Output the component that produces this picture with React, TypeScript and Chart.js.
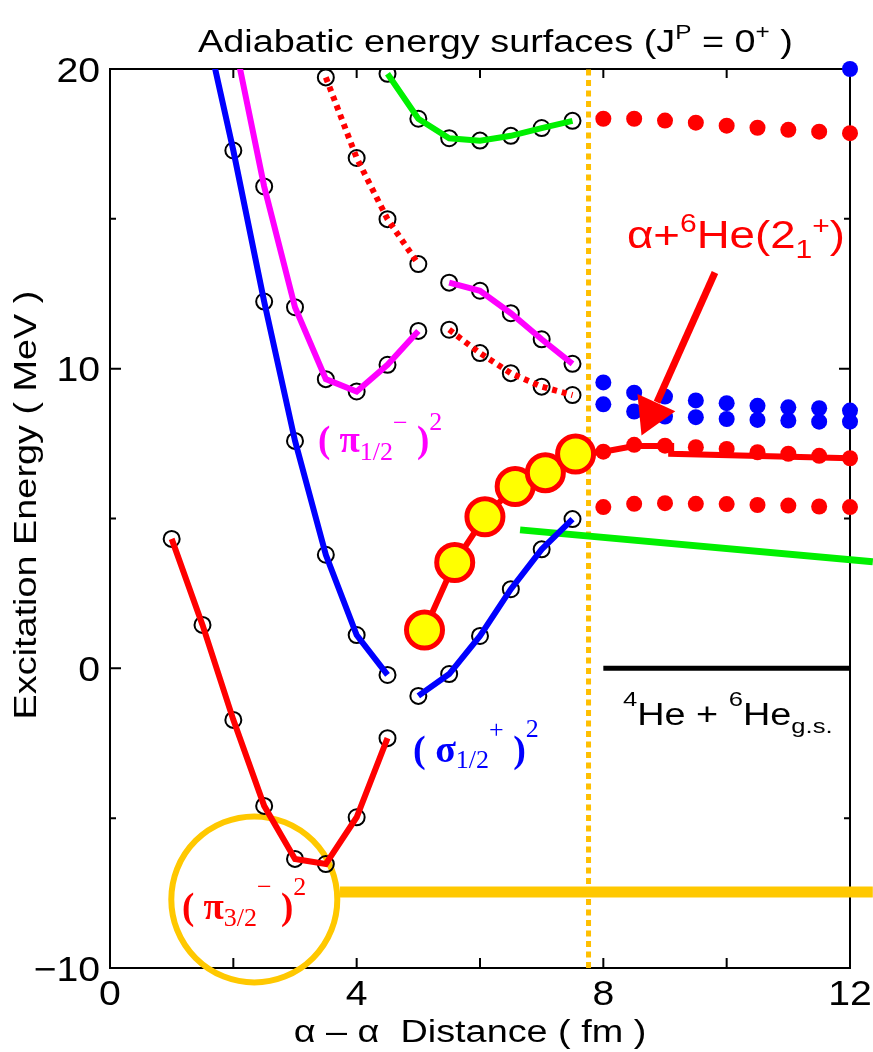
import React, { useEffect, useRef } from 'react';
import { Chart, registerables } from 'chart.js';
Chart.register(...registerables);

// ---- axis ticks ----
const xTicks = [0, 2, 4, 6, 8, 10, 12];
const xTickLabels = [0, 4, 8, 12];
const yTicks = [-10, -5, 0, 5, 10, 15, 20];
const yTickLabels = [-10, 0, 10, 20];

// ---- adiabatic curves (open circles) ----
const piThreeX = [1, 1.5, 2, 2.5, 3, 3.5, 4, 4.5];
const piThreeY = [4.32, 1.45, -1.72, -4.59, -6.36, -6.53, -4.97, -2.33];
const sigmaAX = [1.5, 2, 2.5, 3, 3.5, 4, 4.5];
const sigmaAY = [21.9, 17.28, 12.24, 7.59, 3.79, 1.11, -0.22];
const sigmaBX = [5, 5.5, 6, 6.5, 7, 7.5];
const sigmaBY = [-0.92, -0.19, 1.08, 2.64, 3.97, 4.98];
const piOneAX = [2, 2.5, 3, 3.5, 4, 4.5, 5];
const piOneAY = [21.1, 16.08, 12.05, 9.65, 9.24, 10.13, 11.26];
const piOneBX = [5.5, 6, 6.5, 7, 7.5];
const piOneBY = [12.87, 12.6, 11.85, 10.98, 10.16];
const dottedUpX = [3.5, 4, 4.5, 5];
const dottedUpY = [19.72, 17.03, 14.99, 13.49];
const dottedLowX = [5.5, 6, 6.5, 7, 7.5];
const dottedLowY = [11.3, 10.52, 9.85, 9.4, 9.12];
const greenX = [4.5, 5, 5.5, 6, 6.5, 7, 7.5];
const greenY = [19.84, 18.34, 17.69, 17.61, 17.77, 18.03, 18.27];

// ---- yellow cluster states ----
const clusterX = [5.1, 5.59, 6.08, 6.57, 7.06, 7.55];
const clusterY = [1.28, 3.53, 5.06, 6.07, 6.53, 7.15];
const channelLineX = [7.55, 8, 8.5, 9.1, 9.1, 12];
const channelLineY = [7.15, 7.23, 7.42, 7.42, 7.16, 7.01];

// ---- asymptotic region (filled dots) ----
const asymX = [8, 8.5, 9, 9.5, 10, 10.5, 11, 11.5, 12];
const redTopY = [18.34, 18.34, 18.28, 18.21, 18.11, 18.04, 17.97, 17.91, 17.86];
const blueUpperY = [9.54, 9.2, 9.07, 8.94, 8.85, 8.76, 8.71, 8.68, 8.6];
const blueLowerY = [8.81, 8.57, 8.4, 8.38, 8.32, 8.29, 8.27, 8.23, 8.23];
const redMidY = [7.23, 7.46, 7.43, 7.38, 7.32, 7.21, 7.16, 7.09, 7.01];
const redLowY = [5.38, 5.49, 5.51, 5.49, 5.48, 5.45, 5.43, 5.4, 5.38];
const cornerDotX = [12];
const cornerDotY = [20];

// ---- reference lines ----
const greenChannelX = [6.65, 12.37];
const greenChannelY = [4.62, 3.56];
const thresholdX = [8, 12];
const thresholdY = [0, 0];
const highlightLineX = [3.73, 12.37];
const highlightLineY = [-7.46, -7.46];
const highlightCircleX = [2.34];
const highlightCircleY = [-7.71];
const boundaryX = [7.76, 7.76];
const boundaryY = [-10, 20];
const arrowShaftX = [9.81, 8.87];
const arrowShaftY = [13.21, 8.88];
const arrowHeadX = [8.78];
const arrowHeadY = [8.5];

const pts = (xs: number[], ys: number[]) => xs.map((x, i) => ({ x, y: ys[i] }));

const SANS = '"Liberation Sans", Arial, Helvetica, sans-serif';
const SERIF = '"Liberation Serif", "Times New Roman", serif';

type Seg = { t: string; size: number; dy?: number; bold?: boolean };

function segFont(s: Seg, family: string) {
  return `${s.bold ? 'bold ' : ''}${s.size}px ${family}`;
}

function drawRich(
  ctx: CanvasRenderingContext2D,
  x: number,
  y: number,
  segs: Seg[],
  color: string,
  family: string,
  stretch = 1,
  align: 'left' | 'center' | 'right' = 'left',
  rotate = 0
) {
  ctx.save();
  ctx.translate(x, y);
  if (rotate) ctx.rotate(rotate);
  ctx.scale(stretch, 1);
  ctx.fillStyle = color;
  ctx.textBaseline = 'alphabetic';
  ctx.textAlign = 'left';
  let total = 0;
  for (const s of segs) {
    ctx.font = segFont(s, family);
    total += ctx.measureText(s.t).width;
  }
  let cx = align === 'left' ? 0 : align === 'center' ? -total / 2 : -total;
  for (const s of segs) {
    ctx.font = segFont(s, family);
    ctx.fillText(s.t, cx, s.dy || 0);
    cx += ctx.measureText(s.t).width;
  }
  ctx.restore();
}

const fmt = (v: number) => (v < 0 ? '\u2212' + Math.abs(v) : String(v));

const framePlugin = {
  id: 'frame',
  beforeDatasetsDraw(chart: any) {
    const { ctx, chartArea: a, scales } = chart;
    const xs = scales.x;
    const ys = scales.y;
    ctx.save();
    ctx.strokeStyle = '#000';
    ctx.lineWidth = 2;
    ctx.strokeRect(a.left, a.top, a.right - a.left, a.bottom - a.top);
    ctx.beginPath();
    for (const v of xTicks) {
      const px = xs.getPixelForValue(v);
      ctx.moveTo(px, a.bottom);
      ctx.lineTo(px, a.bottom - 10);
      ctx.moveTo(px, a.top);
      ctx.lineTo(px, a.top + 9);
    }
    for (const v of yTicks) {
      const py = ys.getPixelForValue(v);
      const len = v % 10 === 0 ? 11 : 6;
      ctx.moveTo(a.left, py);
      ctx.lineTo(a.left + len, py);
      ctx.moveTo(a.right, py);
      ctx.lineTo(a.right - len, py);
    }
    ctx.stroke();
    ctx.restore();
  },
  afterDraw(chart: any) {
    const { ctx, scales } = chart;
    const xs = scales.x;
    const ys = scales.y;
    // tick labels
    for (const v of xTickLabels) {
      drawRich(ctx, xs.getPixelForValue(v), 1005, [{ t: fmt(v), size: 35 }], '#000', SANS, 1.12, 'center');
    }
    for (const v of yTickLabels) {
      drawRich(ctx, 100, ys.getPixelForValue(v) + 12.5, [{ t: fmt(v), size: 35 }], '#000', SANS, 1.12, 'right');
    }
    // title
    drawRich(
      ctx,
      198,
      52,
      [
        { t: 'Adiabatic energy surfaces (J', size: 31 },
        { t: 'P', size: 20, dy: -13 },
        { t: ' = 0', size: 31 },
        { t: '+', size: 20, dy: -13 },
        { t: ' )', size: 31 },
      ],
      '#000',
      SANS,
      1.22
    );
    // axis titles
    drawRich(ctx, 470, 1042, [{ t: '\u03b1 \u2013 \u03b1  Distance ( fm )', size: 31 }], '#000', SANS, 1.22, 'center');
    drawRich(ctx, 36, 505, [{ t: 'Excitation Energy ( MeV )', size: 31 }], '#000', SANS, 1.22, 'center', -Math.PI / 2);
    // configuration labels
    drawRich(
      ctx,
      318,
      452,
      [
        { t: '( ', size: 37, bold: true },
        { t: '\u03c0', size: 37, bold: true },
        { t: '1/2', size: 26, dy: 8 },
        { t: '\u2212', size: 26, dy: -21 },
        { t: ' )', size: 37, bold: true },
        { t: '2', size: 26, dy: -22 },
      ],
      '#ff00ff',
      SERIF
    );
    drawRich(
      ctx,
      413,
      762,
      [
        { t: '( ', size: 38, bold: true },
        { t: '\u03c3', size: 38, bold: true },
        { t: '1/2', size: 26, dy: 6 },
        { t: '+', size: 26, dy: -24 },
        { t: ' )', size: 38, bold: true },
        { t: '2', size: 26, dy: -25 },
      ],
      '#0000ff',
      SERIF
    );
    drawRich(
      ctx,
      182,
      919,
      [
        { t: '( ', size: 37, bold: true },
        { t: '\u03c0', size: 37, bold: true },
        { t: '3/2', size: 26, dy: 7 },
        { t: '\u2212', size: 26, dy: -24 },
        { t: ' )', size: 37, bold: true },
        { t: '2', size: 26, dy: -24 },
      ],
      '#ff0000',
      SERIF
    );
    // channel labels
    drawRich(
      ctx,
      627,
      248,
      [
        { t: '\u03b1+', size: 38 },
        { t: '6', size: 25, dy: -16 },
        { t: 'He(2', size: 38 },
        { t: '1', size: 25, dy: 10 },
        { t: '+', size: 25, dy: -14 },
        { t: ')', size: 38 },
      ],
      '#ff0000',
      SANS,
      1.2
    );
    drawRich(
      ctx,
      623,
      725,
      [
        { t: '4', size: 21, dy: -19 },
        { t: 'He + ', size: 31 },
        { t: '6', size: 21, dy: -19 },
        { t: 'He', size: 31 },
        { t: 'g.s.', size: 21, dy: 8 },
      ],
      '#000',
      SANS,
      1.22
    );
  },
};

const openCircles = (xs: number[], ys: number[]) => ({
  data: pts(xs, ys),
  showLine: false,
  pointRadius: 8,
  pointBorderWidth: 2,
  pointBorderColor: '#000',
  pointBackgroundColor: 'rgba(0,0,0,0)',
  order: 80,
});

const solidLine = (xs: number[], ys: number[], color: string, width = 6) => ({
  data: pts(xs, ys),
  borderColor: color,
  borderWidth: width,
  pointRadius: 0,
  order: 50,
});

const dottedLine = (xs: number[], ys: number[]) => ({
  data: pts(xs, ys),
  borderColor: '#ff0000',
  borderWidth: 6,
  borderDash: [5, 5],
  borderCapStyle: 'butt',
  pointRadius: 0,
  order: 50,
});

const dots = (ys: number[], color: string, xs: number[] = asymX) => ({
  data: pts(xs, ys),
  showLine: false,
  pointRadius: 8,
  pointBorderWidth: 0,
  pointBackgroundColor: color,
  clip: false,
  order: 40,
});

export default function App() {
  const ref = useRef<HTMLCanvasElement | null>(null);
  useEffect(() => {
    if (!ref.current) return;
    const chart = new Chart(ref.current, {
      type: 'line',
      data: {
        datasets: [
          {
            data: pts(highlightCircleX, highlightCircleY),
            showLine: false,
            pointRadius: 83,
            pointBorderWidth: 6,
            pointBorderColor: '#ffc800',
            pointBackgroundColor: 'rgba(0,0,0,0)',
            clip: false,
            order: 100,
          },
          {
            data: pts(boundaryX, boundaryY),
            borderColor: '#ffbf00',
            borderWidth: 5,
            borderDash: [6, 4.5],
            borderCapStyle: 'butt',
            pointRadius: 0,
            order: 95,
          },
          {
            data: pts(highlightLineX, highlightLineY),
            borderColor: '#ffc800',
            borderWidth: 11,
            pointRadius: 0,
            clip: false,
            order: 90,
          },
          openCircles(piThreeX, piThreeY),
          openCircles(sigmaAX, sigmaAY),
          openCircles(sigmaBX, sigmaBY),
          openCircles(piOneAX, piOneAY),
          openCircles(piOneBX, piOneBY),
          openCircles(dottedUpX, dottedUpY),
          openCircles(dottedLowX, dottedLowY),
          openCircles(greenX, greenY),
          solidLine(piThreeX, piThreeY, '#ff0000'),
          solidLine(sigmaAX, sigmaAY, '#0000ff'),
          solidLine(sigmaBX, sigmaBY, '#0000ff'),
          solidLine(piOneAX, piOneAY, '#ff00ff'),
          solidLine(piOneBX, piOneBY, '#ff00ff'),
          solidLine(greenX, greenY, '#00f000'),
          dottedLine(dottedUpX, dottedUpY),
          dottedLine(dottedLowX, dottedLowY),
          { ...solidLine(greenChannelX, greenChannelY, '#00f000', 7), clip: false },
          { ...solidLine(thresholdX, thresholdY, '#000000', 5), clip: false },
          dots(redTopY, '#ff0000'),
          dots(blueUpperY, '#0000ff'),
          dots(blueLowerY, '#0000ff'),
          dots(redMidY, '#ff0000'),
          dots(redLowY, '#ff0000'),
          dots(cornerDotY, '#0000ff', cornerDotX),
          { ...solidLine(channelLineX, channelLineY, '#ff0000', 6), clip: false, order: 30 },
          {
            data: pts(clusterX, clusterY),
            borderColor: '#ff0000',
            borderWidth: 6,
            pointRadius: 18,
            pointBorderWidth: 5,
            pointBorderColor: '#ff0000',
            pointBackgroundColor: '#ffff00',
            clip: false,
            order: 20,
          },
          {
            data: pts(arrowShaftX, arrowShaftY),
            borderColor: '#ff0000',
            borderWidth: 7,
            borderCapStyle: 'butt',
            pointRadius: 0,
            clip: false,
            order: 10,
          },
          {
            data: pts(arrowHeadX, arrowHeadY),
            showLine: false,
            pointStyle: 'triangle',
            pointRadius: 24,
            pointRotation: 204.4,
            pointBorderWidth: 0,
            pointBackgroundColor: '#ff0000',
            clip: false,
            order: 10,
          },
        ] as any,
      },
      options: {
        responsive: false,
        animation: false,
        devicePixelRatio: 1,
        events: [],
        layout: { autoPadding: false, padding: { left: 110, right: 23, top: 69, bottom: 84 } },
        plugins: {
          legend: { display: false },
          tooltip: { enabled: false },
          title: { display: false },
        },
        scales: {
          x: { type: 'linear', min: 0, max: 12, display: false },
          y: { type: 'linear', min: -10, max: 20, display: false },
        },
      } as any,
      plugins: [framePlugin],
    });
    return () => chart.destroy();
  }, []);
  return (
    <div style={{ position: 'absolute', left: 0, top: 0, width: 873, height: 1052, background: '#fff' }}>
      <canvas ref={ref} width={873} height={1052} style={{ display: 'block' }} />
    </div>
  );
}
